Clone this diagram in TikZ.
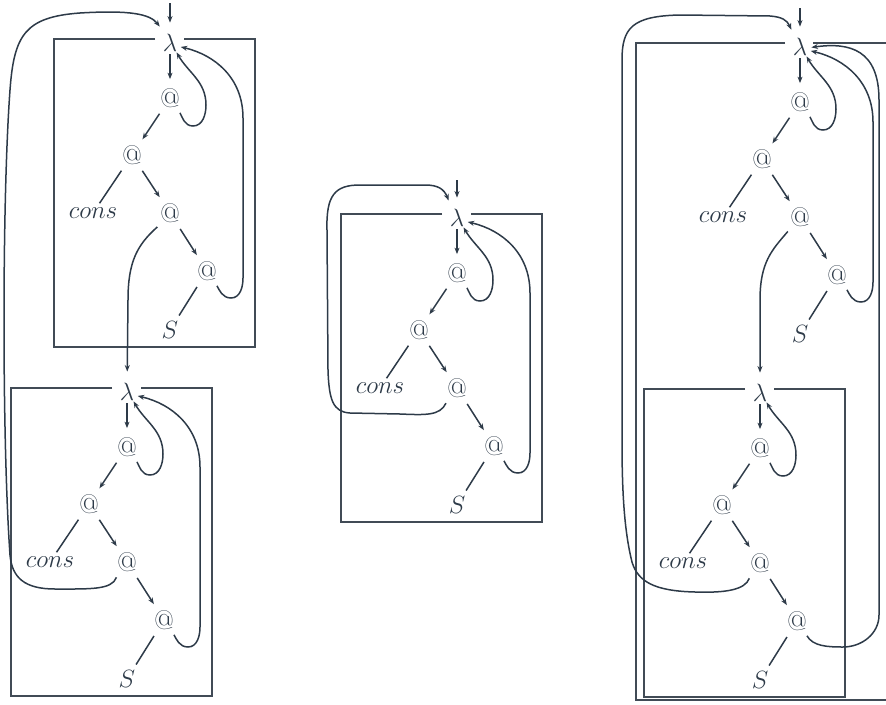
\RequirePackage{fix-cm}
\documentclass[tikz,border=0pt]{standalone}
\usetikzlibrary{arrows.meta}
\definecolor{ink}{RGB}{45,58,72}
\definecolor{boxc}{RGB}{65,75,86}
\newcommand\lamtree[3]{%
 \begin{scope}[shift={(#2,#3)}]
  \node[lam] (#1l) at (0,0) {$\lambda$};
  \node[app] (#1a) at (0,-55) {@};
  \node[app] (#1b) at (-38,-112) {@};
  \node[leaf] (#1c) at (-77,-170) {$cons$};
  \node[app] (#1d) at (0,-170) {@};
  \node[app] (#1e) at (37,-228) {@};
  \node[lam] (#1s) at (0,-287) {$S$};
  \draw[arr,shorten <=0pt] (#1l) -- (#1a);
  \draw[arr] (#1a) -- (#1b);
  \draw[edge] (#1b) -- (#1c);
  \draw[arr] (#1b) -- (#1d);
  \draw[arr] (#1d) -- (#1e);
  \draw[edge] (#1e) -- (#1s);
  \draw[loopc] (#1a.-55) to[out=-60,in=180] (23,-83) to[out=0,in=-90] (36,-62) to[out=90,in=-60] (#1l.-55);
 \end{scope}}
\newcommand\backloop[3]{%
 \begin{scope}[shift={(#2,#3)}]
  \draw[loopc] (#1e.-55) to[out=-60,in=180] (61,-255) to[out=0,in=-90] (73,-235) -- (73,-75) .. controls (73,-35) and (45,-12) .. (#1l.-20);
 \end{scope}}
\newcommand\lamframe[2]{%
 \begin{scope}[shift={(#1,#2)}]
  \draw[frame] (-15,4) -- (-116,4) -- (-116,-304) -- (85,-304) -- (85,4) -- (14,4);
 \end{scope}}
\begin{document}
\begin{tikzpicture}[x=1pt,y=1pt,
  every node/.style={text=ink,font=\fontsize{25}{29}\selectfont},
  lam/.style={circle,inner sep=0pt},
  app/.style={circle,inner sep=0pt,font=\fontsize{27}{31}\selectfont},
  leaf/.style={inner sep=0pt},
  edge/.style={draw=ink,line width=1.5pt,shorten <=5pt,shorten >=5pt},
  arr/.style={edge,-{Stealth[length=6.5pt,width=5pt]}},
  link/.style={draw=ink,line width=1.5pt,-{Stealth[length=6.5pt,width=5pt]}},
  loopc/.style={link,shorten <=4pt},
  frame/.style={draw=boxc,line width=1.3pt},
]
\useasboundingbox (0,0) rectangle (886,-704);
% frames
\lamframe{170}{-43}
\lamframe{127}{-392}
\lamframe{457}{-218}
\lamframe{760}{-393}
\draw[frame] (785,-43) -- (636,-43) -- (636,-700) -- (895,-700);
\draw[frame] (813,-43) -- (895,-43);
% trees
\lamtree{p}{170}{-43}
\lamtree{q}{127}{-392}
\lamtree{r}{457}{-218}
\lamtree{t}{800}{-47}
\lamtree{u}{760}{-393}
% back loops from the last application
\backloop{p}{170}{-43}
\backloop{q}{127}{-392}
\backloop{r}{457}{-218}
\backloop{t}{800}{-47}
\draw[loopc] (ue.-55) to[out=-60,in=180] (843,-647) to[out=0,in=-90] (879,-615) -- (879,-100) .. controls (879,-50) and (850,-42) .. (tl.-2);
% incoming arrows
\coordinate (pin) at (170,-3);
\coordinate (rin) at (457,-180);
\coordinate (tin) at (800,-8);
\draw[link,shorten >=9pt] (pin) -- (pl);
\draw[link,shorten >=9pt] (rin) -- (rl);
\draw[link,shorten >=9pt] (tin) -- (tl);
% links between trees
\draw[link,shorten <=5pt,shorten >=9pt] (pd.-130) .. controls (137,-245) and (128,-262) .. (128,-300) -- (ql);
\draw[link,shorten <=5pt,shorten >=9pt] (td.-130) .. controls (772,-250) and (760,-262) .. (760,-300) -- (ul);
% outer loops
\draw[link,shorten <=5pt,shorten >=8pt] (qd.-130) .. controls (112,-590) and (90,-589) .. (55,-589) .. controls (25,-589) and (12,-578) .. (10,-555) .. controls (2,-440) and (2,-200) .. (10,-90) .. controls (14,-35) and (25,-17) .. (80,-13) .. controls (130,-10) and (150,-14) .. (pl.118);
\draw[link,shorten <=5pt,shorten >=8pt] (rd.-130) .. controls (440,-416) and (425,-415) .. (400,-414) -- (350,-413) .. controls (333,-412) and (329,-400) .. (328,-370) -- (327,-230) .. controls (326,-195) and (335,-185) .. (360,-185) -- (425,-185) .. controls (438,-185) and (444,-189) .. (rl.118);
\draw[link,shorten <=5pt,shorten >=8pt] (ud.-130) .. controls (745,-590) and (725,-593) .. (695,-592) .. controls (655,-591) and (638,-582) .. (632,-562) .. controls (624,-530) and (622,-490) .. (622,-440) -- (622,-60) .. controls (622,-28) and (632,-16) .. (680,-15) -- (770,-16) .. controls (782,-17) and (787,-20) .. (tl.118);
\end{tikzpicture}
\end{document}
